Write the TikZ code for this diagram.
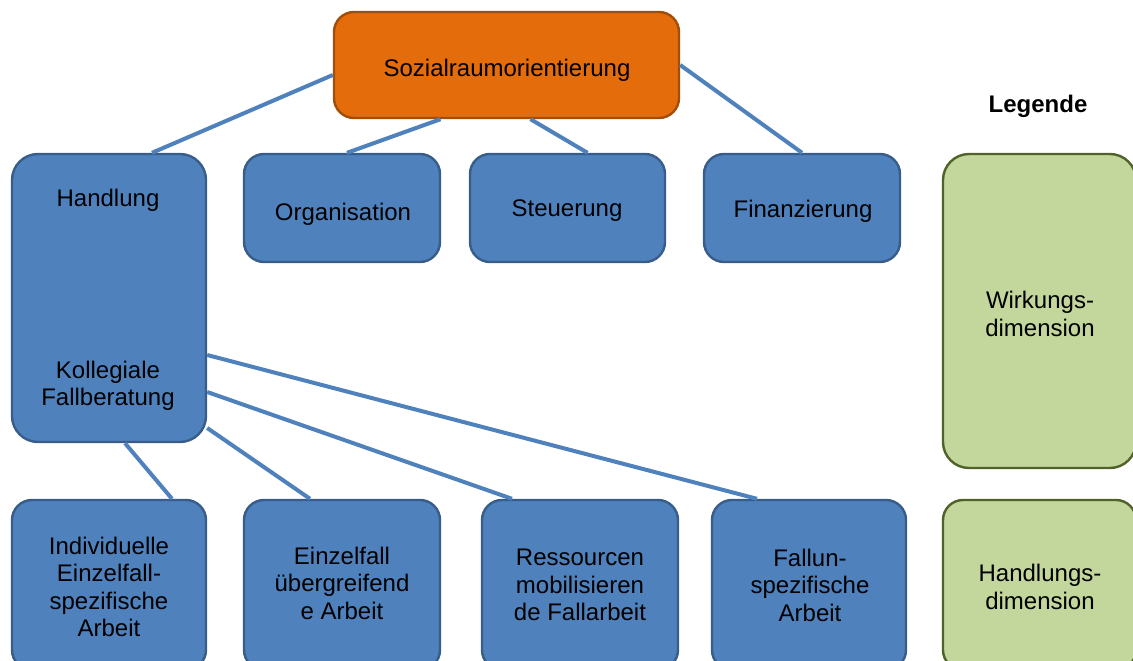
\documentclass[tikz,border=0pt]{standalone}
\usepackage{fontspec}
\setmainfont{Liberation Sans}
\begin{document}
\begin{tikzpicture}[x=1pt,y=-1pt,
  every node/.style={font=\fontsize{24}{27.5}\selectfont, align=center, inner sep=0pt},
  box/.style={draw, line width=2.4pt, rounded corners=20pt},
  bluebox/.style={box, fill=boxblue, draw=edgeblue},
  greenbox/.style={box, fill=boxgreen, draw=edgegreen},
  orangebox/.style={box, fill=boxorange, draw=edgeorange},
  link/.style={draw=boxblue, line width=4pt}]
\definecolor{boxblue}{HTML}{4F81BD}
\definecolor{edgeblue}{HTML}{385D8A}
\definecolor{boxgreen}{HTML}{C3D69B}
\definecolor{edgegreen}{HTML}{4F6228}
\definecolor{boxorange}{HTML}{E46C0A}
\definecolor{edgeorange}{HTML}{A24E0B}
\useasboundingbox (0,0) rectangle (1133,661);

% top level
\node[orangebox, minimum width=345pt, minimum height=106pt] (top) at (506.5,65) {};
\node (toptext) at (507,70) {Sozialraumorientierung};

% effect dimensions
\node[bluebox, minimum width=194pt, minimum height=288pt, rounded corners=26pt] (hand) at (109,298) {};
\node (handtext) at (108,200) {Handlung};
\node (kolltext) at (108,386) {Kollegiale\\Fallberatung};
\node[bluebox, minimum width=196pt, minimum height=108pt] (org) at (342,208) {};
\node (orgtext) at (343,214) {Organisation};
\node[bluebox, minimum width=195pt, minimum height=108pt] (steu) at (567.5,208) {};
\node (steutext) at (567,211) {Steuerung};
\node[bluebox, minimum width=196pt, minimum height=108pt] (fin) at (802,208) {};
\node (fintext) at (803,211) {Finanzierung};

% action dimensions
\node[bluebox, minimum width=194pt, minimum height=170pt] (indiv) at (109,585) {};
\node (indivtext) at (109,587) {Individuelle\\Einzelfall-\\spezifische\\Arbeit};
\node[bluebox, minimum width=196pt, minimum height=170pt] (einz) at (342,585) {};
\node (einztext) at (342,583) {Einzelfall\\übergreifend\\e Arbeit};
\node[bluebox, minimum width=196pt, minimum height=170pt] (res) at (580,585) {};
\node (restext) at (580,585) {Ressourcen\\mobilisieren\\de Fallarbeit};
\node[bluebox, minimum width=194pt, minimum height=170pt] (fall) at (809,585) {};
\node (falltext) at (810,585) {Fallun-\\spezifische\\Arbeit};

% legend
\node (legtitle) at (1038,106) {\bfseries Legende};
\node[greenbox, minimum width=193pt, minimum height=314pt, rounded corners=26pt] (legw) at (1039.5,311) {};
\node (legwtext) at (1040,314) {Wirkungs-\\dimension};
\node[greenbox, minimum width=193pt, minimum height=170pt] (legh) at (1039.5,585) {};
\node (leghtext) at (1040,587) {Handlungs-\\dimension};

% connectors
\draw[link] ([yshift=-10pt]top.west) -- ([xshift=43pt]hand.north);
\draw[link] ([xshift=-66pt]top.south) -- ([xshift=5pt]org.north);
\draw[link] ([xshift=24pt]top.south) -- ([xshift=20pt]steu.north);
\draw[link] (top.east) -- (fin.north);
\draw[link] ([yshift=-57pt]hand.east) -- ([xshift=-52pt]fall.north);
\draw[link] ([yshift=-94pt]hand.east) -- ([xshift=-68pt]res.north);
\draw[link] ([yshift=-130pt]hand.east) -- ([xshift=-32pt]einz.north);
\draw[link] ([xshift=16pt]hand.south) -- ([xshift=63pt]indiv.north);
\end{tikzpicture}
\end{document}
